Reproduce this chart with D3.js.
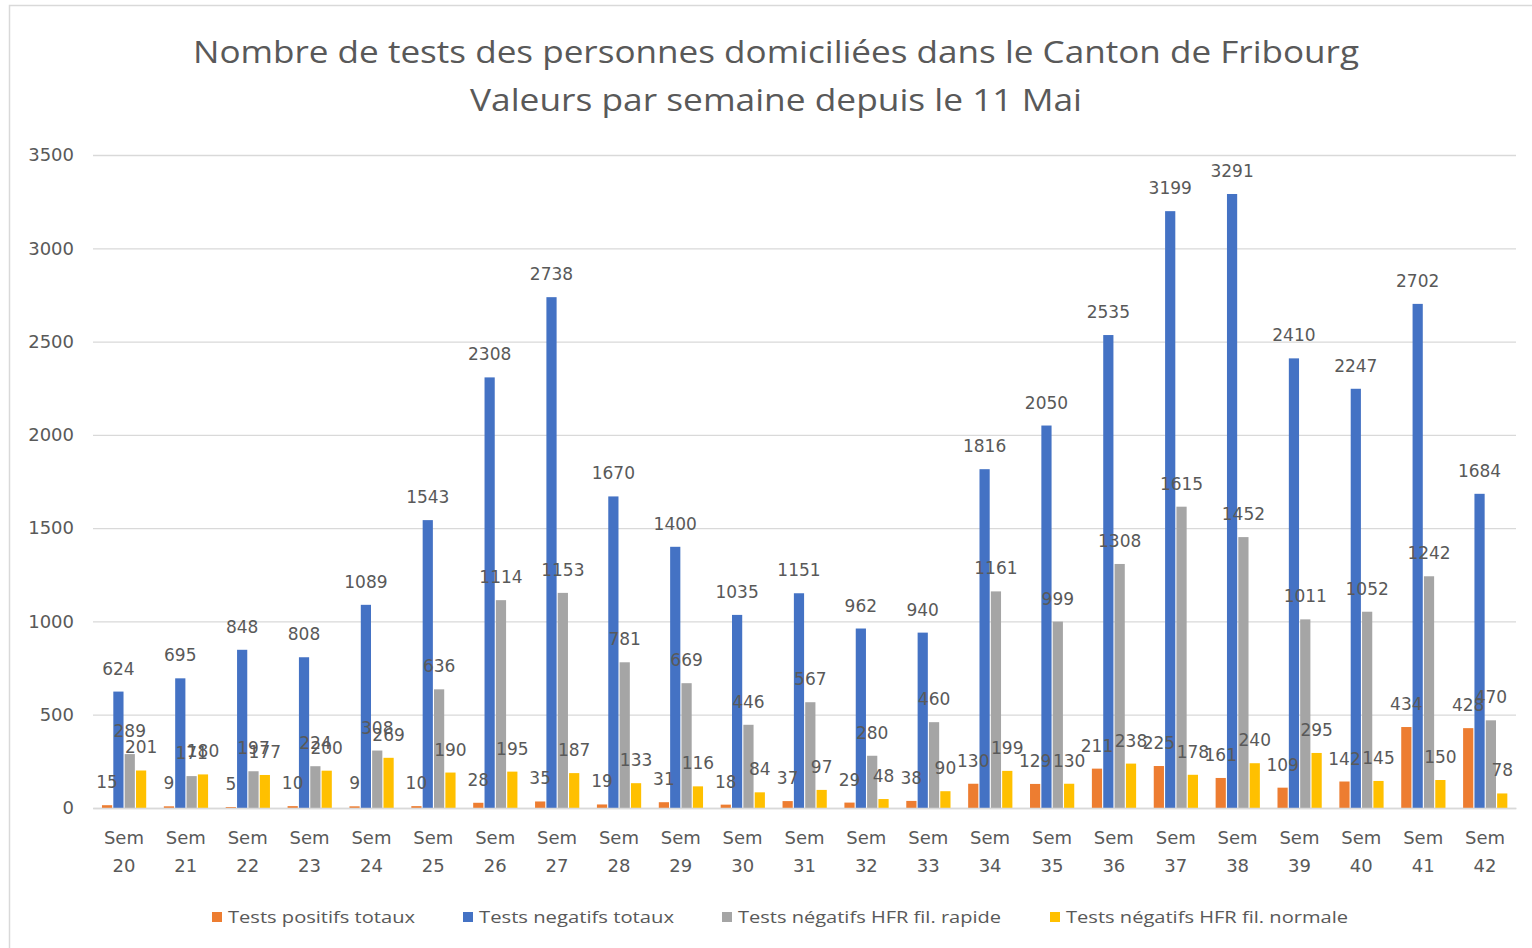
<!DOCTYPE html>
<html><head><meta charset="utf-8">
<script src="https://cdn.jsdelivr.net/npm/d3@7/dist/d3.min.js"></script>
<style>
html,body{margin:0;padding:0;background:#fff;}
svg{display:block;font-family:"DejaVu Sans",sans-serif;}
</style></head>
<body><svg id="chart" width="1532" height="948"></svg>
<script>
const categories = ["Sem 20","Sem 21","Sem 22","Sem 23","Sem 24","Sem 25","Sem 26","Sem 27","Sem 28","Sem 29","Sem 30","Sem 31","Sem 32","Sem 33","Sem 34","Sem 35","Sem 36","Sem 37","Sem 38","Sem 39","Sem 40","Sem 41","Sem 42"];
const positifsTotaux = [15,9,5,10,9,10,28,35,19,31,18,37,29,38,130,129,211,225,161,109,142,434,428];
const negatifsTotaux = [624,695,848,808,1089,1543,2308,2738,1670,1400,1035,1151,962,940,1816,2050,2535,3199,3291,2410,2247,2702,1684];
const negatifsRapide = [289,171,197,224,308,636,1114,1153,781,669,446,567,280,460,1161,999,1308,1615,1452,1011,1052,1242,470];
const negatifsNormale = [201,180,177,200,269,190,195,187,133,116,84,97,48,90,199,130,238,178,240,295,145,150,78];
const seriesNames = ["Tests positifs totaux","Tests negatifs totaux","Tests négatifs HFR fil. rapide","Tests négatifs HFR fil. normale"];
const seriesColors = ["#ED7D31","#4472C4","#A5A5A5","#FFC000"];
const yTicks = [0,500,1000,1500,2000,2500,3000,3500];
const titleLines = ["Nombre de tests des personnes domiciliées dans le Canton de Fribourg","Valeurs par semaine depuis le 11 Mai"];

const seriesValues = [positifsTotaux, negatifsTotaux, negatifsRapide, negatifsNormale];
const svg = d3.select("#chart");
const textColor = "#595959";

// chart border
svg.append("rect").attr("x",9.5).attr("y",5.5).attr("width",1540).attr("height",960)
  .attr("fill","none").attr("stroke","#D9D9D9").attr("stroke-width",1.5);

// title
svg.append("g").selectAll("text").data(titleLines).join("text")
  .attr("x",776).attr("y",(d,i)=>63+i*48)
  .attr("text-anchor","middle").attr("fill",textColor)
  .attr("font-size",31).attr("font-family","'Open Sans',sans-serif")
  .attr("textLength",(d,i)=>i===0?1166:612).attr("lengthAdjust","spacingAndGlyphs")
  .text(d=>d);

const plotLeft = 93, plotRight = 1516, plotTop = 155, plotBottom = 808;
const x0 = d3.scaleBand().domain(categories).range([plotLeft,plotRight]).padding(0);
const x1 = d3.scaleBand().domain(d3.range(seriesNames.length))
  .range([x0.bandwidth()*0.145, x0.bandwidth()*0.86]).paddingInner(0.1);
const y = d3.scaleLinear().domain([0,3500]).range([plotBottom,plotTop]);

// grid
const gGrid = svg.append("g").attr("transform",`translate(${plotLeft},0)`)
  .call(d3.axisLeft(y).tickValues(yTicks).tickSize(-(plotRight-plotLeft)).tickFormat(""));
gGrid.select(".domain").remove();
gGrid.selectAll("line").attr("stroke","#D9D9D9").attr("stroke-width",1.3);

// y labels
const gY = svg.append("g").attr("transform",`translate(74,0)`)
  .call(d3.axisLeft(y).tickValues(yTicks).tickSize(0).tickPadding(0).tickFormat(d3.format("d")));
gY.select(".domain").remove();
gY.selectAll("text").attr("fill",textColor).attr("font-size",18)
  .attr("font-family","'DejaVu Sans',sans-serif").attr("text-anchor","end");

// bars
const rows = categories.map((c,i)=>({cat:c, vals: seriesValues.map(s=>s[i])}));
const groups = svg.append("g").selectAll("g").data(rows).join("g")
  .attr("transform",d=>`translate(${x0(d.cat)},0)`);
groups.selectAll("rect").data(d=>d.vals.map((v,k)=>({k,v}))).join("rect")
  .attr("x",d=>x1(d.k)).attr("width",x1.bandwidth())
  .attr("y",d=>y(d.v)).attr("height",d=>plotBottom-y(d.v))
  .attr("fill",d=>seriesColors[d.k]);

// data labels
groups.selectAll("text.lbl").data(d=>d.vals.map((v,k)=>({k,v}))).join("text")
  .attr("class","lbl")
  .attr("x",d=>x1(d.k)+x1.bandwidth()/2).attr("y",d=>y(d.v)-17)
  .attr("text-anchor","middle").attr("fill",textColor).attr("font-size",17)
  .text(d=>d.v);

// x axis
const gX = svg.append("g").attr("transform",`translate(0,${plotBottom})`)
  .call(d3.axisBottom(x0).tickSize(0).tickPadding(0));
gX.select(".domain").attr("stroke","#D9D9D9").attr("stroke-width",1.3);
gX.selectAll("text").each(function(d){
  const t = d3.select(this).text("").attr("fill",textColor).attr("font-size",18)
    .attr("font-family","'DejaVu Sans',sans-serif").attr("dy",null).attr("y",0);
  const parts = d.split(" ");
  t.append("tspan").attr("x",0).attr("y",36).text(parts[0]);
  t.append("tspan").attr("x",0).attr("y",64).text(parts[1]);
});

// legend
const legendX = [212,463,722,1050];
const lg = svg.append("g").selectAll("g").data(seriesNames).join("g")
  .attr("transform",(d,i)=>`translate(${legendX[i]},917)`);
lg.append("rect").attr("x",0).attr("y",-5).attr("width",10).attr("height",10)
  .attr("fill",(d,i)=>seriesColors[i]);
lg.append("text").attr("x",16).attr("y",6).attr("fill",textColor).attr("font-size",17)
  .attr("font-family","'Open Sans',sans-serif")
  .attr("textLength",(d,i)=>[187,195,263,282][i]).attr("lengthAdjust","spacingAndGlyphs")
  .text(d=>d);
</script></body></html>
